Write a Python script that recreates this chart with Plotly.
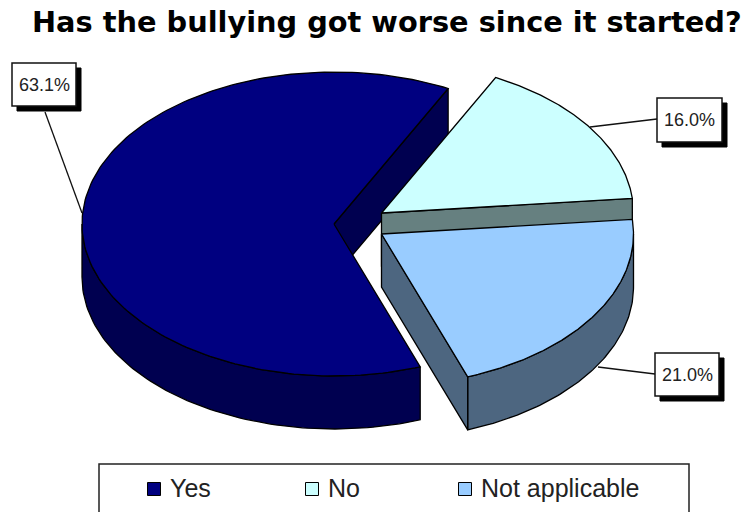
import numpy as np
import plotly.graph_objects as go

# Survey results
categories = ["Yes", "No", "Not applicable"]
values = [63.1, 16.0, 21.0]
value_labels = ["63.1%", "16.0%", "21.0%"]
title_text = "Has the bullying got worse since it started?"

# Face colours per category: top, side
top_colors = ["#000080", "#CCFFFF", "#99CCFF"]
side_colors = ["#000050", "#668080", "#4D6680"]

# Projection of the tilted pie
W, H = 746, 512
RX, RY, DEPTH = 252, 152, 53
START_ANGLE = 160  # clockwise from twelve o'clock
centers = [(334, 224), (381.5, 213), (381.5, 234)]  # each slice is pulled out separately


def rim(center, a0, a1, dy=0, n=90):
    a = np.radians(np.linspace(a0, a1, n))
    return center[0] + RX * np.sin(a), center[1] - RY * np.cos(a) + dy


def polygon(fig, xs, ys, color, name, line="#000000"):
    fig.add_trace(go.Scatter(
        x=np.append(xs, xs[0]), y=np.append(ys, ys[0]), mode="lines", fill="toself",
        fillcolor=color, line=dict(color=line, width=1.3), name=name,
        hoverinfo="name", showlegend=False,
    ))


def spoke_wall(fig, center, angle, color, name):
    x, y = rim(center, angle, angle, n=1)
    xs = np.array([center[0], x[0], x[0], center[0]])
    ys = np.array([center[1], y[0], y[0] + DEPTH, center[1] + DEPTH])
    polygon(fig, xs, ys, color, name)


def outer_wall(fig, center, a0, a1, color, name):
    # only the front half of the rim faces the viewer
    lo = max(a0, 90)
    hi = min(a1, 270)
    if lo >= hi:
        return
    x_top, y_top = rim(center, lo, hi)
    x_bot, y_bot = rim(center, hi, lo, dy=DEPTH)
    polygon(fig, np.concatenate([x_top, x_bot]), np.concatenate([y_top, y_bot]), color, name)


def top_face(fig, center, a0, a1, color, name):
    x, y = rim(center, a0, a1, n=180)
    polygon(fig, np.concatenate([[center[0]], x]), np.concatenate([[center[1]], y]), color, name)


# Slice extents, walked clockwise from the start angle
total = sum(values)
sweeps = [v / total * 360 for v in values]
edges = []
angle = START_ANGLE
for s in sweeps:
    edges.append((angle, angle + s))
    angle += s

fig = go.Figure()

# Painter's order: walls then top of each slice, back slices first
(a0, a1) = edges[0]
spoke_wall(fig, centers[0], a1, side_colors[0], categories[0])
outer_wall(fig, centers[0], a0, a1, side_colors[0], categories[0])
top_face(fig, centers[0], a0, a1, top_colors[0], categories[0])

(a0, a1) = edges[1]
spoke_wall(fig, centers[1], a1 % 360, side_colors[1], categories[1])
top_face(fig, centers[1], a0 % 360, a1 % 360, top_colors[1], categories[1])

(a0, a1) = edges[2]
a0m, a1m = a0 - 360, a1 - 360
outer_wall(fig, centers[2], a0m, a1m, side_colors[2], categories[2])
spoke_wall(fig, centers[2], a1m, side_colors[2], categories[2])
top_face(fig, centers[2], a0m, a1m, top_colors[2], categories[2])

shapes = []
annotations = []

# Value call-outs: box with drop shadow and leader line
boxes = [(12, 63, 76, 106), (657, 98, 722, 142), (655, 353, 719, 396)]
leaders = [((45, 112), (82, 213)), ((590, 127), (657, 119)), ((598, 367), (655, 374))]
for (x0, y0, x1, y1), (p, q), label in zip(boxes, leaders, value_labels):
    shapes.append(dict(type="line", x0=p[0], y0=p[1], x1=q[0], y1=q[1],
                       line=dict(color="#111111", width=1.3)))
    shapes.append(dict(type="rect", x0=x0 + 5, y0=y0 + 5, x1=x1 + 5, y1=y1 + 5,
                       fillcolor="#000000", line=dict(color="#000000", width=1)))
    shapes.append(dict(type="rect", x0=x0, y0=y0, x1=x1, y1=y1,
                       fillcolor="#FFFFFF", line=dict(color="#111111", width=1.5)))
    annotations.append(dict(x=(x0 + x1) / 2, y=(y0 + y1) / 2, text=label, showarrow=False,
                            font=dict(family="Liberation Sans", size=18, color="#222222")))

# Legend frame runs off the bottom edge
shapes.append(dict(type="rect", x0=99, y0=464, x1=689, y1=530,
                   fillcolor="#FFFFFF", line=dict(color="#222222", width=1.5), layer="below"))

legend_marks = [154, 312, 465]
legend_text = [168, 326, 479]
for name, color, mx, tx in zip(categories, top_colors, legend_marks, legend_text):
    fig.add_trace(go.Scatter(
        x=[mx], y=[489], mode="markers", hoverinfo="skip", showlegend=False,
        marker=dict(symbol="square", size=13, color=color, line=dict(color="#000000", width=1)),
    ))
    annotations.append(dict(x=tx, y=488, text=name, showarrow=False, xanchor="left",
                            font=dict(family="Liberation Sans", size=25, color="#222222")))

annotations.append(dict(x=386.5, y=22, text=f"<b>{title_text}</b>", showarrow=False,
                        font=dict(family="DejaVu Sans", size=28.8, color="#000000")))

fig.update_layout(
    width=W, height=H, margin=dict(l=0, r=0, t=0, b=0),
    paper_bgcolor="#FFFFFF", plot_bgcolor="#FFFFFF",
    xaxis=dict(range=[0, W], visible=False, fixedrange=True),
    yaxis=dict(range=[H, 0], visible=False, fixedrange=True),
    shapes=shapes, annotations=annotations, showlegend=False,
)

fig.write_html("out.html")
